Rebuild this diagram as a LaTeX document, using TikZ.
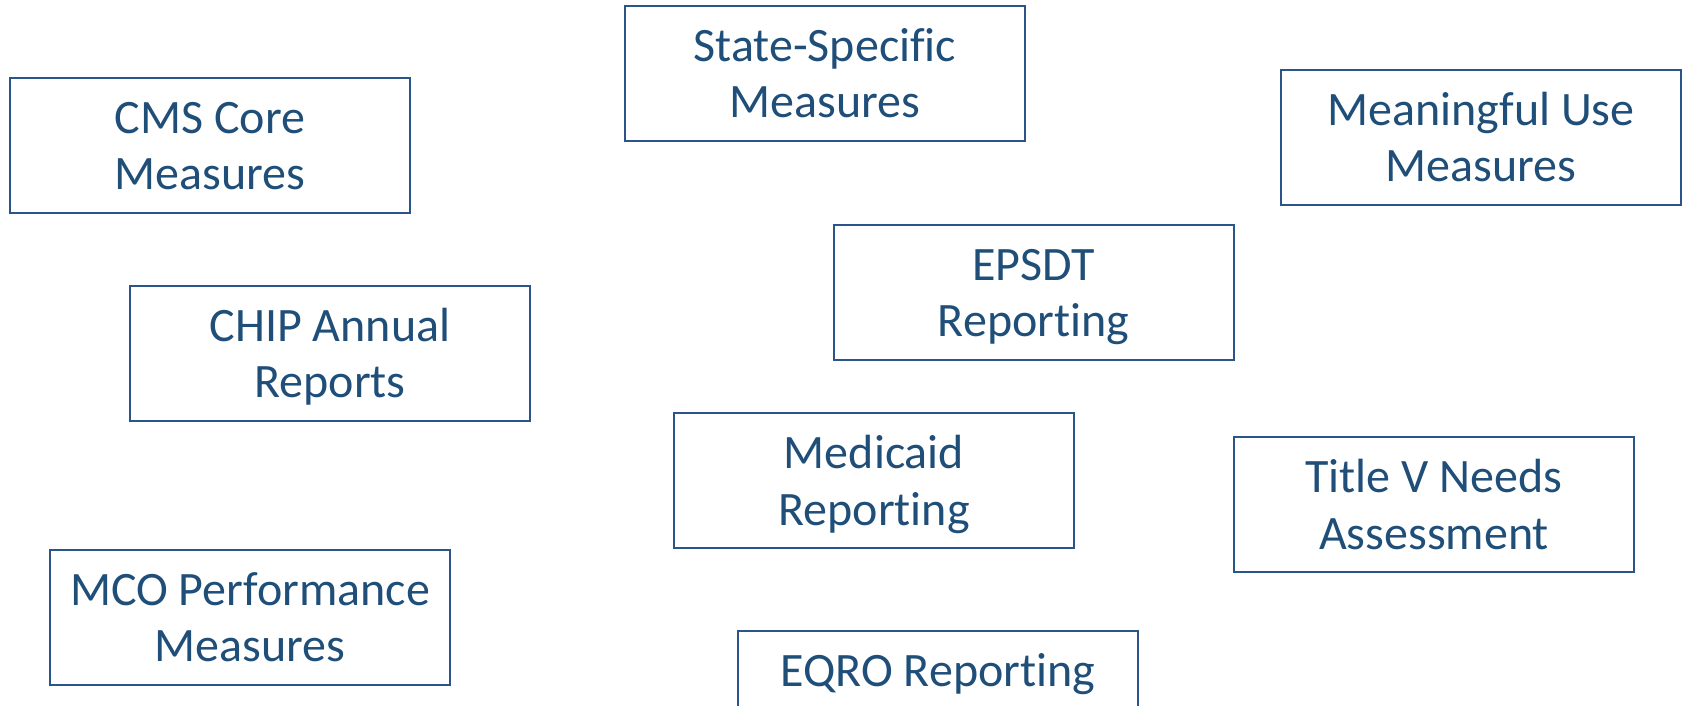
\documentclass[tikz,border=0pt]{standalone}
\usepackage{fontspec}
\setmainfont[Ligatures={NoCommon}]{Carlito}
\definecolor{txtblue}{HTML}{1F4E79}
\definecolor{edgeblue}{HTML}{2B5489}
\newcommand\boxstrut{\rule[-11.8pt]{0pt}{56.5pt}}
\begin{document}
\begin{tikzpicture}[x=1pt,y=-1pt,
  measurebox/.style={draw=edgeblue, line width=2pt, text=txtblue,
    minimum width=400pt, minimum height=135pt, inner sep=0pt,
    align=center, font=\fontsize{48}{56.5}\selectfont}]
\useasboundingbox (0,0) rectangle (1682,705);
\node[measurebox] (cms) at (210,145) {\boxstrut CMS Core\\\boxstrut Measures};
\node[measurebox] (state) at (825,73) {\boxstrut State-Specific\\\boxstrut Measures};
\node[measurebox] (mu) at (1481,137) {\boxstrut Meaningful Use\\\boxstrut Measures};
\node[measurebox] (epsdt) at (1033.5,292) {\boxstrut EPSDT\\\boxstrut Reporting};
\node[measurebox] (chip) at (330,353) {\boxstrut CHIP Annual\\\boxstrut Reports};
\node[measurebox] (medicaid) at (874,480.5) {\boxstrut Medicaid\\\boxstrut Reporting};
\node[measurebox] (titlev) at (1434,504.5) {\boxstrut Title V Needs\\\boxstrut Assessment};
\node[measurebox] (mco) at (250,617) {\boxstrut MCO Performance\\\boxstrut Measures};
\node[measurebox] (eqro) at (938,698.5) {\boxstrut EQRO Reporting\\\boxstrut};
\end{tikzpicture}
\end{document}
